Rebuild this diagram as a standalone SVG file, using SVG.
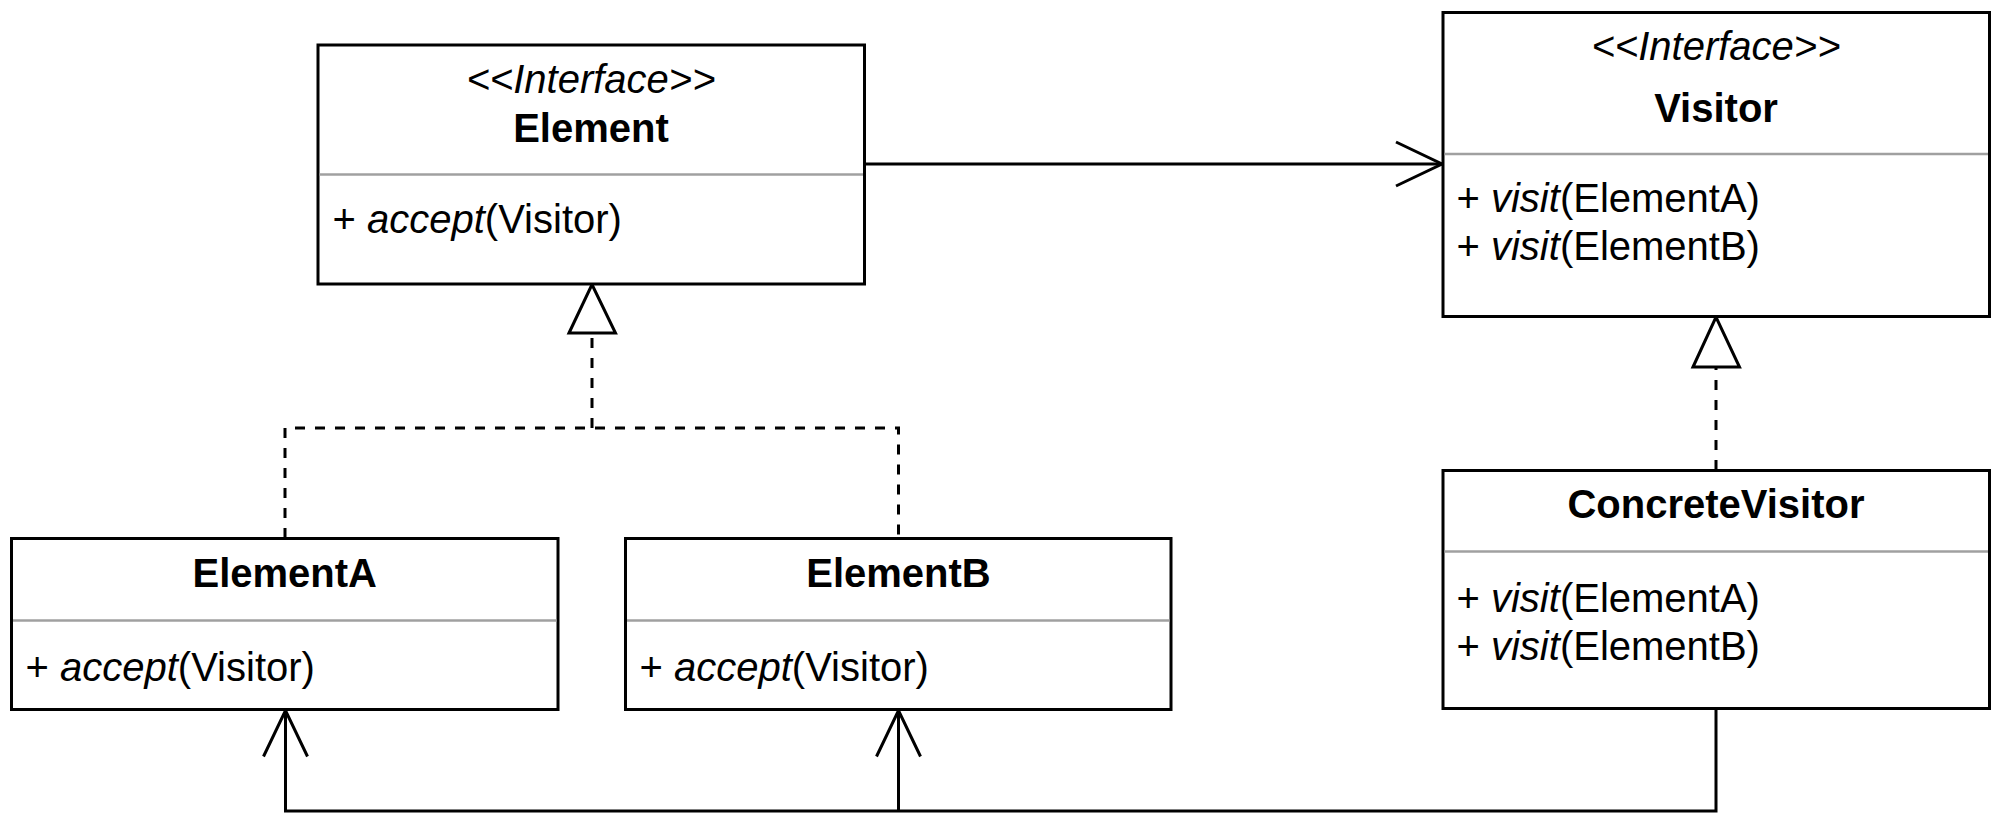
<svg xmlns="http://www.w3.org/2000/svg" width="2000" height="823" viewBox="0 0 2000 823">
<style>
  .box { fill: #ffffff; stroke: #000000; stroke-width: 3; }
  .div { stroke: #a0a0a0; stroke-width: 2.5; }
  .t { font-family: "Liberation Sans", Arial, Helvetica, sans-serif; font-size: 40px; fill: #000000; }
  .c { text-anchor: middle; }
  .b { font-weight: bold; }
  .i { font-style: italic; }
  .line { fill: none; stroke: #000000; stroke-width: 3; }
  .dash { fill: none; stroke: #000000; stroke-width: 3; stroke-dasharray: 10 10; }
  .open { fill: none; stroke: #000000; stroke-width: 3; stroke-linejoin: miter; }
  .tri { fill: #ffffff; stroke: #000000; stroke-width: 3; stroke-linejoin: miter; }
</style>
<defs>
  <marker id="openArrow" markerUnits="userSpaceOnUse" markerWidth="52" markerHeight="50" viewBox="0 0 52 50" refX="48" refY="25" orient="auto">
    <path class="open" d="M2,3 L48,25 L2,47"/>
  </marker>
</defs>
<rect width="2000" height="823" fill="#ffffff"/>

<g id="connectors">
  <!-- Element -> Visitor association -->
  <path class="line" d="M864.5,164 H1442" marker-end="url(#openArrow)"/>
  <!-- ElementA / ElementB realize Element -->
  <path class="dash" d="M285,538 V428 H898.5 V538"/>
  <path class="dash" d="M592,428 V333"/>
  <polygon class="tri" points="569,333 592,284.5 615.5,333"/>
  <!-- ConcreteVisitor realizes Visitor -->
  <path class="dash" d="M1716,470 V367"/>
  <polygon class="tri" points="1693,367 1716,317 1739.5,367"/>
  <!-- ConcreteVisitor -> ElementA / ElementB -->
  <path class="line" d="M1716,708.5 V811 H285.5 V710.5" marker-end="url(#openArrow)"/>
  <path class="line" d="M898.5,811 V710.5" marker-end="url(#openArrow)"/>
</g>

<g id="Element">
  <rect class="box" x="318" y="45" width="546.5" height="239"/>
  <line class="div" x1="319.5" y1="174.5" x2="863" y2="174.5"/>
  <text class="t c i" x="591" y="93">&lt;&lt;Interface&gt;&gt;</text>
  <text class="t c b" x="591" y="142">Element</text>
  <text class="t" x="332.5" y="233">+ <tspan class="i">accept</tspan>(Visitor)</text>
</g>

<g id="Visitor">
  <rect class="box" x="1443" y="12.5" width="546.5" height="304"/>
  <line class="div" x1="1444.5" y1="154" x2="1988" y2="154"/>
  <text class="t c i" x="1716" y="60">&lt;&lt;Interface&gt;&gt;</text>
  <text class="t c b" x="1716" y="122">Visitor</text>
  <text class="t" x="1456.5" y="211.5">+ <tspan class="i">visit</tspan>(ElementA)</text>
  <text class="t" x="1456.5" y="260">+ <tspan class="i">visit</tspan>(ElementB)</text>
</g>

<g id="ElementA">
  <rect class="box" x="11.5" y="538.5" width="546.5" height="171"/>
  <line class="div" x1="13" y1="620.5" x2="556.5" y2="620.5"/>
  <text class="t c b" x="284.75" y="587">ElementA</text>
  <text class="t" x="25.5" y="681">+ <tspan class="i">accept</tspan>(Visitor)</text>
</g>

<g id="ElementB">
  <rect class="box" x="625.5" y="538.5" width="545.5" height="171"/>
  <line class="div" x1="627" y1="620.5" x2="1169.5" y2="620.5"/>
  <text class="t c b" x="898.5" y="587">ElementB</text>
  <text class="t" x="639.5" y="681">+ <tspan class="i">accept</tspan>(Visitor)</text>
</g>

<g id="ConcreteVisitor">
  <rect class="box" x="1443" y="470.5" width="546.5" height="238"/>
  <line class="div" x1="1444.5" y1="551.5" x2="1988" y2="551.5"/>
  <text class="t c b" x="1716" y="518">ConcreteVisitor</text>
  <text class="t" x="1456.5" y="611.5">+ <tspan class="i">visit</tspan>(ElementA)</text>
  <text class="t" x="1456.5" y="660">+ <tspan class="i">visit</tspan>(ElementB)</text>
</g>
</svg>
